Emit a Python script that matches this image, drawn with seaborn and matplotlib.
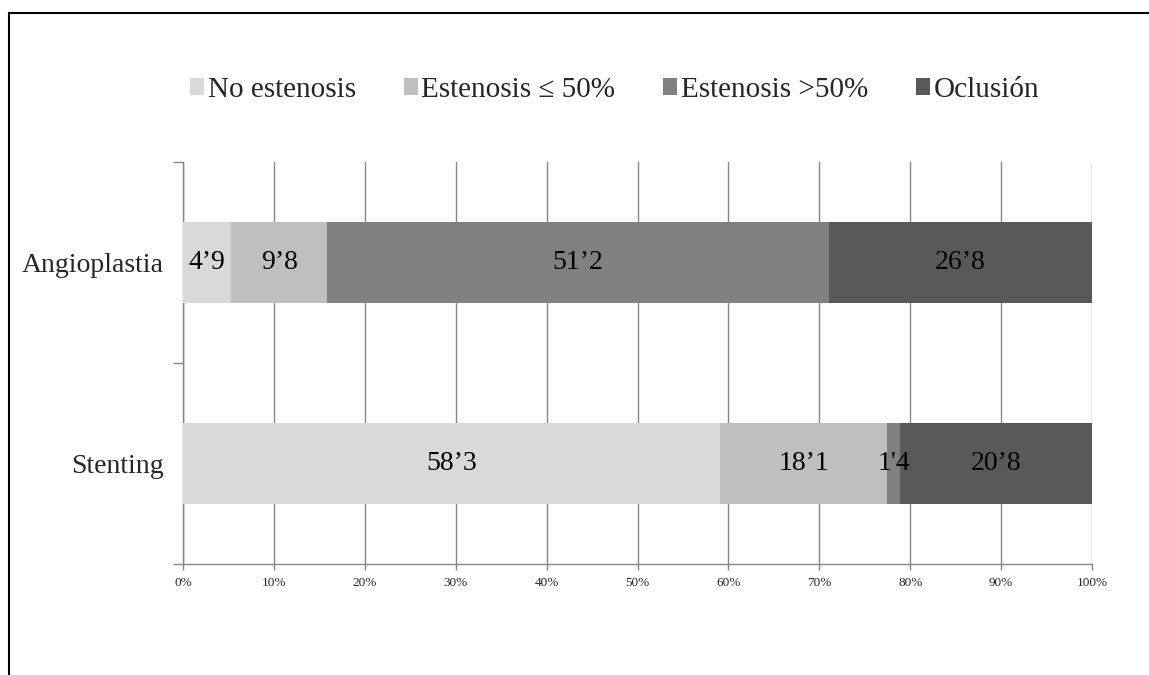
import numpy as np
import pandas as pd
import matplotlib
matplotlib.use("Agg")
import matplotlib.pyplot as plt
from matplotlib.patches import Patch
from matplotlib.lines import Line2D
import seaborn as sns

categories = ["Angioplastia", "Stenting"]
series = ["No estenosis", "Estenosis \u2264 50%", "Estenosis >50%", "Oclusi\u00f3n"]
no_estenosis = [4.9, 58.3]
estenosis_le50 = [9.8, 18.1]
estenosis_gt50 = [51.2, 1.4]
oclusion = [26.8, 20.8]
labels_angio = ["4\u20199", "9\u20198", "51\u20192", "26\u20198"]
labels_stent = ["58\u20193", "18\u20191", "1'4", "20\u20198"]
xticks = [0, 10, 20, 30, 40, 50, 60, 70, 80, 90, 100]
colors = ["#D9D9D9", "#BFBFBF", "#808080", "#595959"]

sns.set_theme(style="white")
plt.rcParams["font.family"] = ["Liberation Serif", "DejaVu Serif"]

vals = np.array([no_estenosis, estenosis_le50, estenosis_gt50, oclusion])  # series x categories
pct = vals / vals.sum(axis=0) * 100
cum = np.cumsum(pct, axis=0)

fig = plt.figure(figsize=(11.49, 6.75), dpi=100)
ax = fig.add_axes([0.1593, 0.1644, 0.7911, 0.5956])

for i in reversed(range(len(series))):
    df = pd.DataFrame({"cat": categories, "val": cum[i]})
    sns.barplot(data=df, y="cat", x="val", orient="h", color=colors[i],
                width=0.4, ax=ax, saturation=1, linewidth=0, zorder=3)

ax.set_xlim(0, 100)
ax.set_ylim(1.5, -0.5)
ax.set_xticks(xticks)
ax.set_xticklabels([f"{t}%" for t in xticks], fontsize=9.5)
ax.set_yticks([0, 1])
ax.set_yticklabels(categories, fontsize=20)
ax.set_yticks([-0.5, 0.5, 1.5], minor=True)
ax.tick_params(axis="y", which="major", length=0, pad=14)
ax.tick_params(axis="y", which="minor", length=7, color="#868686", width=1, left=True)
ax.tick_params(axis="x", which="major", length=4, color="#868686", width=1, bottom=True, pad=5)
ax.set_xlabel("")
ax.set_ylabel("")
ax.grid(axis="x", color="#868686", linewidth=1, zorder=0)
ax.set_axisbelow(True)
for s in ["top", "right"]:
    ax.spines[s].set_visible(False)
for s in ["left", "bottom"]:
    ax.spines[s].set_color("#868686")
    ax.spines[s].set_linewidth(1)

all_labels = [labels_angio, labels_stent]
for j in range(len(categories)):
    for i in range(len(series)):
        start = cum[i - 1, j] if i > 0 else 0.0
        center = start + pct[i, j] / 2
        ax.text(center, j, all_labels[j][i], ha="center", va="center",
                fontsize=20, color="black", zorder=5)

handles = [Patch(facecolor=c, edgecolor="none") for c in colors]
fig.legend(handles, series, loc="center", bbox_to_anchor=(0.535, 0.867), ncol=4,
           frameon=False, fontsize=21, handlelength=0.48, handleheight=0.48,
           handletextpad=0.12, columnspacing=1.65)

fig.add_artist(Line2D([9 / 1149, 1.0], [1 - 13 / 675, 1 - 13 / 675],
                      transform=fig.transFigure, color="black", lw=1.5))
fig.add_artist(Line2D([9 / 1149, 9 / 1149], [0, 1 - 13 / 675],
                      transform=fig.transFigure, color="black", lw=1.5))

fig.savefig("out.png", dpi=100)
